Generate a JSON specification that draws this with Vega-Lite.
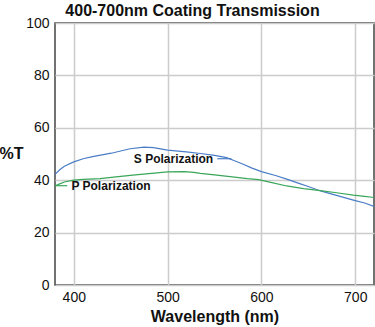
{
  "$schema": "https://vega.github.io/schema/vega-lite/v6.json",
  "width": 319,
  "height": 262,
  "autosize": "none",
  "padding": {"left": 55, "top": 23, "right": 1, "bottom": 42},
  "background": "white",
  "title": {"text": "400-700nm Coating Transmission", "font": "Liberation Sans", "fontSize": 16, "fontWeight": "bold", "color": "#111", "anchor": "middle", "frame": "bounds", "offset": 6, "dy": 9, "dx": 6},
  "config": {
    "font": "Liberation Sans",
    "view": {"stroke": "#444", "strokeWidth": 1.5},
    "axis": {"domain": false, "ticks": false, "grid": true, "gridColor": "#cccccc", "gridWidth": 1.5, "labelFont": "Liberation Sans", "labelFontSize": 14, "labelColor": "#111", "titleFont": "Liberation Sans", "titleFontSize": 16, "titleFontWeight": "bold", "titleColor": "#111"}
  },
  "datasets": {
    "curves": [
      {"series": "S", "nm": 380, "t": 42.2},
      {"series": "S", "nm": 385, "t": 44.0},
      {"series": "S", "nm": 390, "t": 45.3},
      {"series": "S", "nm": 400, "t": 47.0},
      {"series": "S", "nm": 410, "t": 48.2},
      {"series": "S", "nm": 420, "t": 49.0},
      {"series": "S", "nm": 440, "t": 50.3},
      {"series": "S", "nm": 460, "t": 52.0},
      {"series": "S", "nm": 475, "t": 52.6},
      {"series": "S", "nm": 485, "t": 52.4},
      {"series": "S", "nm": 500, "t": 51.5},
      {"series": "S", "nm": 520, "t": 50.8},
      {"series": "S", "nm": 535, "t": 50.2},
      {"series": "S", "nm": 550, "t": 49.5},
      {"series": "S", "nm": 563, "t": 48.6},
      {"series": "S", "nm": 570, "t": 47.6},
      {"series": "S", "nm": 580, "t": 46.2},
      {"series": "S", "nm": 590, "t": 44.6},
      {"series": "S", "nm": 600, "t": 43.3},
      {"series": "S", "nm": 615, "t": 41.8},
      {"series": "S", "nm": 627, "t": 40.4},
      {"series": "S", "nm": 640, "t": 38.8},
      {"series": "S", "nm": 650, "t": 37.6},
      {"series": "S", "nm": 663, "t": 35.9},
      {"series": "S", "nm": 680, "t": 34.2},
      {"series": "S", "nm": 698, "t": 32.4},
      {"series": "S", "nm": 710, "t": 31.3},
      {"series": "S", "nm": 720, "t": 30.0},
      {"series": "P", "nm": 380, "t": 37.8},
      {"series": "P", "nm": 385, "t": 38.6},
      {"series": "P", "nm": 390, "t": 39.3},
      {"series": "P", "nm": 400, "t": 40.0},
      {"series": "P", "nm": 410, "t": 40.3},
      {"series": "P", "nm": 428, "t": 40.6},
      {"series": "P", "nm": 445, "t": 41.3},
      {"series": "P", "nm": 463, "t": 41.9},
      {"series": "P", "nm": 480, "t": 42.5},
      {"series": "P", "nm": 500, "t": 43.2},
      {"series": "P", "nm": 518, "t": 43.3},
      {"series": "P", "nm": 528, "t": 43.0},
      {"series": "P", "nm": 535, "t": 42.6},
      {"series": "P", "nm": 550, "t": 42.0},
      {"series": "P", "nm": 569, "t": 41.3},
      {"series": "P", "nm": 585, "t": 40.6},
      {"series": "P", "nm": 597, "t": 40.2},
      {"series": "P", "nm": 610, "t": 39.2},
      {"series": "P", "nm": 627, "t": 37.8},
      {"series": "P", "nm": 645, "t": 36.8},
      {"series": "P", "nm": 663, "t": 36.0},
      {"series": "P", "nm": 680, "t": 35.2},
      {"series": "P", "nm": 698, "t": 34.3},
      {"series": "P", "nm": 710, "t": 33.8},
      {"series": "P", "nm": 720, "t": 33.4}
    ],
    "labels": [
      {"series": "S", "label": "S Polarization", "nm": 464, "t": 48.2, "lx1": 553, "lx2": 568, "ly": 48.2},
      {"series": "P", "label": "P Polarization", "nm": 397.5, "t": 37.6, "lx1": 380, "lx2": 393, "ly": 37.9}
    ]
  },
  "layer": [
    {
      "data": {"name": "curves"},
      "mark": {"type": "line", "strokeWidth": 1.2, "clip": true},
      "encoding": {
        "x": {"field": "nm", "type": "quantitative", "scale": {"domain": [380, 720], "nice": false, "zero": false}, "axis": {"values": [400, 500, 600, 700], "title": "Wavelength (nm)", "labelPadding": 5, "titlePadding": 4}},
        "y": {"field": "t", "type": "quantitative", "scale": {"domain": [0, 100], "nice": false}, "axis": {"values": [0, 20, 40, 60, 80, 100], "title": "%T", "titleAngle": 0, "titleAlign": "center", "titleBaseline": "middle", "titleX": -44, "titleY": 130, "labelPadding": 6}},
        "color": {"field": "series", "type": "nominal", "scale": {"domain": ["S", "P"], "range": ["#4a7dc6", "#3aa65a"]}, "legend": null},
        "order": {"field": "nm", "type": "quantitative"}
      }
    },
    {
      "data": {"name": "labels"},
      "mark": {"type": "rule", "strokeWidth": 1.2},
      "encoding": {
        "x": {"field": "lx1", "type": "quantitative"},
        "x2": {"field": "lx2"},
        "y": {"field": "ly", "type": "quantitative"},
        "color": {"field": "series", "type": "nominal", "legend": null}
      }
    },
    {
      "data": {"name": "labels"},
      "mark": {"type": "text", "align": "left", "baseline": "middle", "fontSize": 12, "fontWeight": "bold", "font": "Liberation Sans", "color": "#111"},
      "encoding": {
        "x": {"field": "nm", "type": "quantitative"},
        "y": {"field": "t", "type": "quantitative"},
        "text": {"field": "label"}
      }
    }
  ]
}
